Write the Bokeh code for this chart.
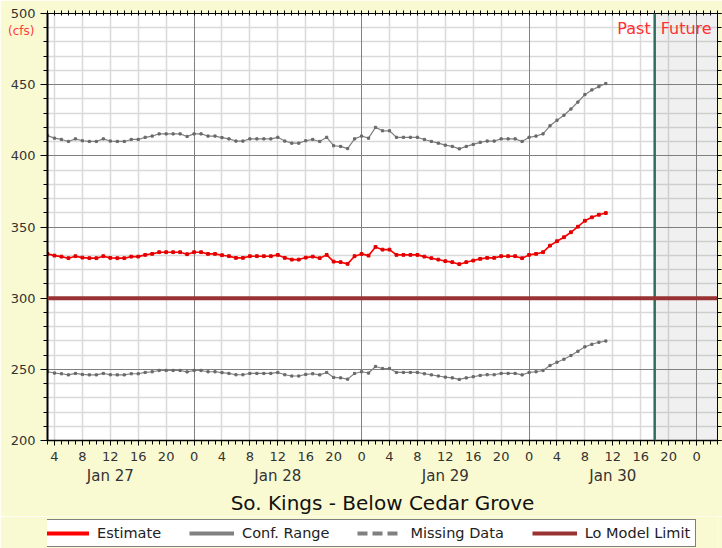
from bokeh.plotting import figure
from bokeh.layouts import column
from bokeh.models import (Range1d, LinearAxis, FixedTicker, Grid, Span, BoxAnnotation,
                          Label, Legend, LegendItem, Title)
from bokeh.embed import file_html
from bokeh.resources import INLINE

# hours since Jan 27 00:00
hours = list(range(3, 84))
estimate = [331.1, 329.9, 329.2, 328.1, 329.5, 328.5, 328.1, 328.1, 329.5, 328.3,
            328.1, 328.1, 329.2, 329.2, 330.4, 331.1, 332.3, 332.3, 332.3, 332.3,
            330.9, 332.3, 332.3, 331.1, 331.1, 330.2, 329.5, 328.3, 328.3, 329.5,
            329.5, 329.5, 329.5, 330.4, 328.3, 327.1, 327.1, 328.5, 329.2, 328.1,
            330.4, 325.7, 325.3, 324.1, 329.5, 331.1, 329.9, 336.0, 334.1, 334.1,
            330.4, 330.4, 330.4, 330.4, 329.2, 328.1, 327.1, 326.0, 325.3, 323.9,
            325.3, 326.4, 327.6, 328.3, 328.3, 329.5, 329.5, 329.5, 328.1, 330.4,
            331.1, 332.3, 336.9, 340.0, 342.8, 346.3, 350.2, 354.4, 356.8, 358.6,
            359.8]
conf_upper = [414.2, 412.4, 411.5, 410.1, 411.9, 410.6, 410.1, 410.1, 411.9, 410.4,
              410.1, 410.1, 411.5, 411.5, 413.0, 413.9, 415.4, 415.4, 415.4, 415.4,
              413.6, 415.4, 415.4, 413.9, 413.9, 412.8, 411.9, 410.4, 410.4, 411.9,
              411.9, 411.9, 411.9, 413.0, 410.4, 408.9, 408.9, 410.6, 411.5, 410.1,
              413.0, 407.1, 406.6, 405.1, 411.9, 413.9, 412.4, 420.0, 417.6, 417.6,
              413.0, 413.0, 413.0, 413.0, 411.5, 410.1, 408.9, 407.5, 406.6, 404.9,
              406.6, 408.0, 409.5, 410.4, 410.4, 411.9, 411.9, 411.9, 410.1, 413.0,
              413.9, 415.4, 421.1, 425.0, 428.5, 432.9, 437.8, 443.0, 446.3, 448.6,
              450.8]
conf_lower = [248.3, 247.4, 246.9, 246.1, 247.1, 246.4, 246.1, 246.1, 247.1, 246.2,
              246.1, 246.1, 246.9, 246.9, 247.8, 248.3, 249.2, 249.2, 249.2, 249.2,
              248.2, 249.2, 249.2, 248.3, 248.3, 247.7, 247.1, 246.2, 246.2, 247.1,
              247.1, 247.1, 247.1, 247.8, 246.2, 245.3, 245.3, 246.4, 246.9, 246.1,
              247.8, 244.3, 244.0, 243.1, 247.1, 248.3, 247.4, 252.0, 250.6, 250.6,
              247.8, 247.8, 247.8, 247.8, 246.9, 246.1, 245.3, 244.5, 244.0, 242.9,
              244.0, 244.8, 245.7, 246.2, 246.2, 247.1, 247.1, 247.1, 246.1, 247.8,
              248.3, 249.2, 252.7, 255.0, 257.1, 259.7, 262.7, 265.8, 267.6, 269.0,
              269.9]
lo_model_limit = 300
now_hour = 90  # Jan 30 18:00 (Past / Future split)

x_start, x_end = 3, 99
y_start, y_end = 200, 500
hour_ticks = list(range(4, 97, 4))
hour_labels = {t: str(t % 24) for t in hour_ticks}
day_ticks = [12, 36, 60, 84]
day_labels = ["Jan 27", "Jan 28", "Jan 29", "Jan 30"]
y_major = list(range(200, 501, 50))
y_minor = list(range(200, 501, 10))
all_hours = list(range(3, 100))
day_lines = [24, 48, 72, 96]
light_x = [t for t in hour_ticks if t not in day_lines]
units_text = "(cfs)"
units_pos = 488
title_text = "So. Kings - Below Cedar Grove"
legend_labels = ["Estimate", "Conf. Range", "Missing Data", "Lo Model Limit"]

FONT = "DejaVu Sans"
BG = "#FAFAD2"

p = figure(width=722, height=516, x_range=Range1d(x_start, x_end),
           y_range=Range1d(y_start, y_end), output_backend="svg",
           toolbar_location=None, x_axis_location=None, y_axis_location=None,
           min_border_left=47, min_border_right=5, min_border_top=13, min_border_bottom=0)
p.border_fill_color = BG
p.background_fill_color = "white"
p.outline_line_color = "black"
p.outline_line_width = 1
p.grid.visible = False

# grids
p.add_layout(Grid(dimension=1, ticker=FixedTicker(ticks=[v for v in y_minor if v % 50]),
                  grid_line_color="#d9d9d9", grid_line_width=1.5))
p.add_layout(Grid(dimension=0, ticker=FixedTicker(ticks=light_x),
                  grid_line_color="#d9d9d9", grid_line_width=1.5))
p.add_layout(Grid(dimension=1, ticker=FixedTicker(ticks=y_major),
                  grid_line_color="#808080", grid_line_width=1))
p.add_layout(Grid(dimension=0, ticker=FixedTicker(ticks=day_lines),
                  grid_line_color="#808080", grid_line_width=1))

# future shading
p.add_layout(BoxAnnotation(left=now_hour, fill_color="#808080", fill_alpha=0.12,
                           line_color=None))

# axes
def style(ax):
    ax.axis_line_color = "black"
    ax.major_tick_line_color = "black"
    ax.minor_tick_line_color = "black"
    ax.major_label_text_font = FONT
    ax.major_label_text_color = "#333333"

left = LinearAxis(ticker=FixedTicker(ticks=y_major, minor_ticks=y_minor))
style(left)
left.axis_line_width = 2
left.major_tick_out = 7
left.major_tick_in = 0
left.minor_tick_out = 4
left.minor_tick_in = 0
left.major_label_text_font_size = "13px"
left.major_label_standoff = 5
p.add_layout(left, "left")

units = LinearAxis(ticker=FixedTicker(ticks=[units_pos]))
units.axis_line_color = None
units.major_tick_line_color = None
units.minor_tick_line_color = None
units.major_tick_out = 0
units.major_tick_in = 0
units.major_label_overrides = {units_pos: units_text}
units.major_label_text_font = FONT
units.major_label_text_font_size = "12px"
units.major_label_text_color = "#FF3B3B"
units.major_label_standoff = -27
p.add_layout(units, "left")

right = LinearAxis(ticker=FixedTicker(ticks=y_major, minor_ticks=y_minor))
style(right)
right.major_tick_out = 4
right.major_tick_in = 0
right.minor_tick_out = 4
right.minor_tick_in = 0
right.major_label_overrides = {v: "" for v in y_major}
right.major_label_standoff = 0
right.major_label_text_font_size = "1px"
p.add_layout(right, "right")

top = LinearAxis(ticker=FixedTicker(ticks=all_hours))
style(top)
top.major_tick_out = 3
top.major_tick_in = 2
top.minor_tick_line_color = None
top.major_label_overrides = {v: "" for v in all_hours}
top.major_label_standoff = 0
top.major_label_text_font_size = "1px"
p.add_layout(top, "above")

bottom = LinearAxis(ticker=FixedTicker(ticks=hour_ticks, minor_ticks=all_hours))
style(bottom)
bottom.axis_line_width = 1.5
bottom.major_tick_out = 5
bottom.major_tick_in = 0
bottom.minor_tick_out = 4
bottom.minor_tick_in = 0
bottom.major_label_overrides = hour_labels
bottom.major_label_text_font_size = "13px"
bottom.major_label_standoff = 6
p.add_layout(bottom, "below")

dates = LinearAxis(ticker=FixedTicker(ticks=day_ticks))
dates.axis_line_color = None
dates.major_tick_line_color = None
dates.minor_tick_line_color = None
dates.major_tick_out = 0
dates.major_tick_in = 0
dates.major_label_overrides = dict(zip(day_ticks, day_labels))
dates.major_label_text_font = FONT
dates.major_label_text_font_size = "15px"
dates.major_label_text_color = "#333333"
dates.major_label_standoff = 3
p.add_layout(dates, "below")

title = Title(text=title_text, align="center", text_font=FONT, text_font_size="20px",
              text_font_style="normal", text_color="#111111", standoff=3, offset=0)
p.add_layout(title, "below")

# data lines
p.line(hours, conf_upper, line_color="#808080", line_width=1.2)
p.scatter(hours, conf_upper, marker="square", size=2.2, color="#6a6a6a")
p.line(hours, conf_lower, line_color="#808080", line_width=1.2)
p.scatter(hours, conf_lower, marker="square", size=2.2, color="#6a6a6a")
p.line(hours, estimate, line_color="#FF0000", line_width=1.6)
p.scatter(hours, estimate, marker="square", size=2.8, color="#E00000")

p.add_layout(Span(location=now_hour, dimension="height", line_color="#2F6E5F", line_width=2.5))
p.add_layout(Span(location=lo_model_limit, dimension="width", line_color="#993333", line_width=4))

p.add_layout(Label(x=now_hour, y=y_end, text="Past", x_offset=-4, y_offset=-5,
                   text_align="right", text_baseline="top", text_color="#FF3030",
                   text_font=FONT, text_font_size="16px"))
p.add_layout(Label(x=now_hour, y=y_end, text="Future", x_offset=6, y_offset=-5,
                   text_align="left", text_baseline="top", text_color="#FF3030",
                   text_font=FONT, text_font_size="16px"))

# legend in its own strip below the chart (frames are aligned by the column)
p2 = figure(width=722, height=32, x_range=Range1d(0, 1), y_range=Range1d(0, 1),
            output_backend="svg", toolbar_location=None,
            x_axis_location=None, y_axis_location=None, min_border=0)
p2.grid.visible = False
p2.outline_line_color = None
p2.background_fill_color = BG
p2.border_fill_color = BG
r1 = p2.line(x=[5, 6], y=[5, 6], line_color="#FF0000", line_width=4)
r2 = p2.line(x=[5, 6], y=[5, 6], line_color="#808080", line_width=4)
r3 = p2.line(x=[5, 6], y=[5, 6], line_color="#808080", line_width=4, line_dash="10 5")
r4 = p2.line(x=[5, 6], y=[5, 6], line_color="#993333", line_width=4)
legend = Legend(items=[LegendItem(label=l, renderers=[r]) for l, r in
                       zip(legend_labels, [r1, r2, r3, r4])],
                orientation="horizontal", location=(-9, 1),
                border_line_color="black", border_line_width=1.5,
                background_fill_color="white", background_fill_alpha=1,
                label_text_font=FONT, label_text_font_size="14.5px",
                label_text_color="#222222",
                glyph_width=45, glyph_height=16, label_height=16,
                label_standoff=8, spacing=28, padding=5, margin=0)
p2.add_layout(legend, "center")

layout = column(p, p2, spacing=0)
open("out.html", "w").write(file_html(layout, INLINE))
